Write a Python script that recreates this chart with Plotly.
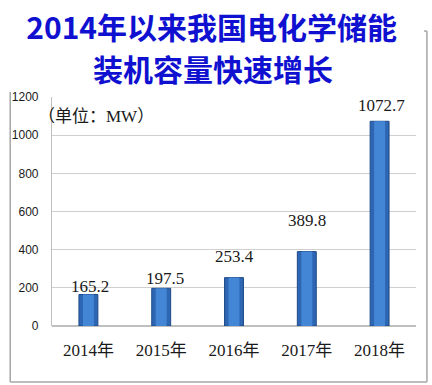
import plotly.graph_objects as go

years = ["2014年", "2015年", "2016年", "2017年", "2018年"]
capacity = [165.2, 197.5, 253.4, 389.8, 1072.7]
value_labels = ["165.2", "197.5", "253.4", "389.8", "1072.7"]
label_yshift = [8, 10, 21, 31, 16]
label_xshift = [2, 4, 0, 0, 2]
y_ticks = [0, 200, 400, 600, 800, 1000, 1200]

title_line1 = "2014年以来我国电化学储能"
title_line2 = "装机容量快速增长"
unit_text = "（单位：MW）"

serif = "Liberation Serif, Times New Roman, DejaVu Serif, Noto Sans CJK SC, serif"
title_font = dict(family="Noto Sans CJK SC", size=30, color="#1010D0", weight="bold")

fig = go.Figure()
fig.add_trace(go.Bar(
    x=years, y=capacity, width=0.26,
    marker=dict(color="#2D66B2", line=dict(color="#1E4A87", width=1)),
    hoverinfo="skip", showlegend=False,
))
fig.add_trace(go.Bar(
    x=years, y=capacity, width=0.15,
    marker=dict(color="#4486D6", line=dict(width=0)),
    hoverinfo="skip", showlegend=False,
))

for yr, v, t, ys, xs in zip(years, capacity, value_labels, label_yshift, label_xshift):
    fig.add_annotation(x=yr, y=v, text=t, showarrow=False, yanchor="middle",
                       yshift=ys, xshift=xs,
                       font=dict(family=serif, size=17, color="#1a1a1a"))

fig.add_annotation(xref="paper", yref="paper", x=-0.045, y=0.913, xanchor="left", yanchor="middle",
                   text=unit_text, showarrow=False,
                   font=dict(family=serif, size=17, color="#1a1a1a"))

# second title line
fig.add_annotation(xref="paper", yref="paper", x=0.4426, y=1.1266, xanchor="center", yanchor="middle",
                   text=title_line2, showarrow=False, font=title_font)

frame = dict(color="#A6A6A6", width=1.5)
fig.add_shape(type="line", xref="paper", yref="paper", x0=-0.1148, x1=-0.1148, y0=1.022, y1=-0.2445, line=frame)
fig.add_shape(type="line", xref="paper", yref="paper", x0=-0.1148, x1=1.030, y0=-0.2445, y1=-0.2445, line=frame)
fig.add_shape(type="line", xref="paper", yref="paper", x0=1.030, x1=1.030, y0=-0.2445, y1=1.288, line=frame)
fig.add_shape(type="line", xref="paper", yref="paper", x0=1.022, x1=1.030, y0=1.288, y1=1.288, line=frame)

fig.update_layout(
    width=432, height=385,
    margin=dict(l=50, r=16, t=97, b=59),
    paper_bgcolor="white", plot_bgcolor="white",
    barmode="overlay",
    title=dict(text=title_line1, x=0.49, xanchor="center", xref="container",
               y=0.925, yanchor="middle", yref="container", font=title_font),
    xaxis=dict(showgrid=False, showline=False, ticks="", ticklabelstandoff=12,
               tickfont=dict(family=serif, size=17, color="#1a1a1a")),
    yaxis=dict(range=[0, 1200], tickvals=y_ticks, showgrid=True, gridcolor="#CFCFCF", gridwidth=1.2,
               showline=True, linecolor="#BFBFBF", linewidth=1.2, zeroline=True, zerolinecolor="#BFBFBF",
               ticks="", ticklabelstandoff=10,
               tickfont=dict(family="Liberation Sans Narrow, Liberation Sans", size=12, color="#1a1a1a")),
)

fig.write_html("out.html", config={"displayModeBar": False},
               post_script="document.body.style.margin='0';")
